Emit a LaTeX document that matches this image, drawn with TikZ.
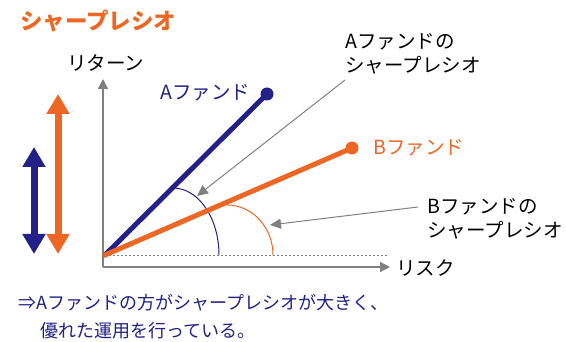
\documentclass[tikz,border=0pt]{standalone}
\usepackage{fontspec}
\setmainfont{Noto Sans CJK JP}
\usetikzlibrary{arrows.meta}
\definecolor{navy}{RGB}{33,33,135}
\definecolor{org}{RGB}{236,102,36}
\definecolor{gry}{RGB}{128,128,128}
\begin{document}
\begin{tikzpicture}[x=1pt,y=-1pt,
  txt/.style={inner sep=0pt,anchor=west,font=\fontsize{19.5}{23.5}\selectfont},
  axis/.style={gry,line width=1.2pt,-{Triangle[length=10pt,width=10pt]}},
  leader/.style={gry,line width=1pt,-{Triangle[length=11pt,width=10pt]}},
  fund/.style={line width=5pt,line cap=round},
  dotn/.style={circle,inner sep=0pt,minimum size=13pt},
  bigarrow/.style={line width=7pt,{Triangle[length=20pt,width=22pt]}-{Triangle[length=20pt,width=22pt]}}]
\useasboundingbox (0,0) rectangle (566,342);
% title
\node[txt,org,font=\fontsize{22.5}{26}\selectfont\bfseries] (title) at (20,21) {シャープレシオ};
% axes
\coordinate (ax0) at (103,267);
\coordinate (ytip) at (103,79);
\coordinate (xtip) at (390,267);
\draw[axis] (ax0) -- (ytip);
\draw[axis] (ax0) -- (xtip);
\node[txt] (ret) at (67,63) {リターン};
\node[txt] (risk) at (396,268) {リスク};
% baseline dashed
\coordinate (O) at (105,255);
\coordinate (dend) at (389,255);
\draw[gry,dashed,line width=0.8pt,dash pattern=on 2pt off 2pt] (O) -- (dend);
% arcs
\draw[navy,line width=1pt] (173,188) arc[start angle=-90,end angle=0,x radius=46,y radius=67];
\draw[org,line width=1pt] (227,205) arc[start angle=-90,end angle=0,x radius=46,y radius=50];
% fund lines
\node[dotn,fill=navy] (adot) at (267,94) {};
\node[dotn,fill=org] (bdot) at (352,148) {};
\draw[fund,navy] (O) -- (adot.center);
\draw[fund,org] (O) -- (bdot.center);
\node[txt,navy] (alab) at (160,93) {Aファンド};
\node[txt,org] (blab) at (373,148) {Bファンド};
% sharpe labels
\node[txt,align=left] (asl) at (345,54) {Aファンドの\\シャープレシオ};
\node[txt,align=left] (bsl) at (427,219) {Bファンドの\\シャープレシオ};
\coordinate (atip) at (197,196);
\coordinate (btip) at (270,225);
\coordinate (astart) at (345,80);
\coordinate (bstart) at (418,207);
\draw[leader] (astart) -- (atip);
\draw[leader] (bstart) -- (btip);
% left arrows
\coordinate (n1) at (34,147);
\coordinate (n2) at (34,254);
\coordinate (o1) at (58,94);
\coordinate (o2) at (58,254);
\draw[bigarrow,navy] (n1) -- (n2);
\draw[bigarrow,org] (o1) -- (o2);
% bottom text
\node[txt,navy,font=\fontsize{18}{22}\selectfont] (c1) at (18,303) {⇒Aファンドの方がシャープレシオが大きく、};
\node[txt,navy,font=\fontsize{18}{22}\selectfont] (c2) at (40,331) {優れた運用を行っている。};
\end{tikzpicture}
\end{document}
